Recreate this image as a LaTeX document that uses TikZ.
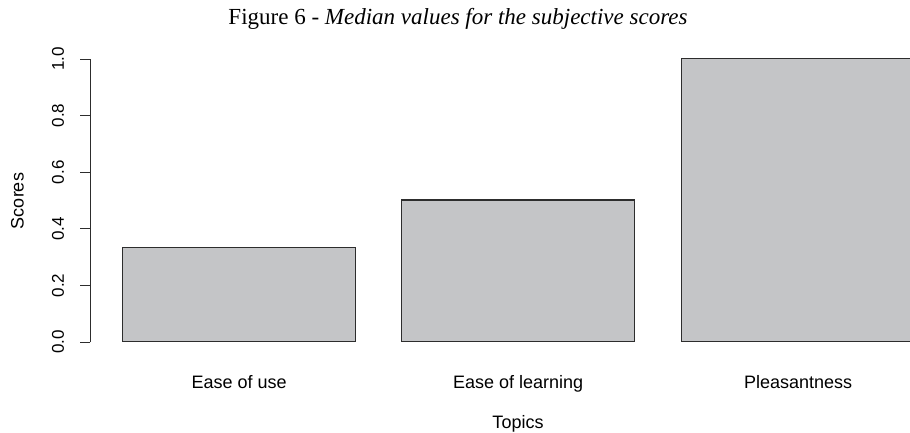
\documentclass[tikz,border=0pt]{standalone}
\usepackage{fontspec}
\setmainfont{Liberation Serif}
\setsansfont{Liberation Sans}
\usetikzlibrary{positioning}
\definecolor{barfill}{RGB}{196,197,199}
\definecolor{barline}{RGB}{45,45,45}
\tikzset{auto, x=1pt, y=1pt, font=\sffamily\fontsize{18}{18}\selectfont}
\tikzstyle{bar} = [draw=barline, fill=barfill, line width=1.1pt, rectangle, inner sep=0pt, anchor=south west]
\tikzstyle{axis} = [draw=barline, line width=0.9pt]
\tikzstyle{ticklabel} = [rotate=90, inner sep=0pt, anchor=center, font=\sffamily\fontsize{17}{17}\selectfont]
\tikzstyle{catlabel} = [inner sep=0pt, anchor=base]
\tikzstyle{title} = [inner sep=0pt, anchor=base, font=\rmfamily\fontsize{23}{23}\selectfont]
\newcommand{\yzero}{90}
\newcommand{\yunit}{283}

\begin{document}
\begin{tikzpicture}
		\useasboundingbox (0,0) rectangle (910,432);

		\node [title] (title) at (458,407) {Figure 6 - \textit{Median values for the subjective scores}};

		% bars
		\node [bar, minimum width=233pt, minimum height=0.3333*\yunit pt] (ease) at (122,\yzero) {};
		\node [bar, minimum width=233pt, minimum height=0.5*\yunit pt] (learn) at (401,\yzero) {};
		\node [bar, minimum width=233pt, minimum height=1.0*\yunit pt] (pleas) at (681,\yzero) {};

		\coordinate (labrow) at (0,44);
		\node [catlabel] (easelab) at (ease.south |- labrow) {Ease of use};
		\node [catlabel] (learnlab) at (learn.south |- labrow) {Ease of learning};
		\node [catlabel] (pleaslab) at (pleas.south |- labrow) {Pleasantness};
		\node [catlabel] (xtitle) at (518,4) {Topics};

		% y axis
		\coordinate (ybot) at (90,\yzero);
		\coordinate (ytop) at (90,\yzero+\yunit);
		\draw [axis] (ybot) -- (ytop);
		\foreach \v/\lab [count=\i] in {0/0.0, 0.2/0.2, 0.4/0.4, 0.6/0.6, 0.8/0.8, 1/1.0} {
			\coordinate (tk\i) at (90,\yzero+\v*\yunit);
			\draw [axis] (tk\i) -- ++(-10,0);
			\node [ticklabel] (tl\i) at (58,\yzero+\v*\yunit) {\lab};
		}
		\node [ticklabel, font=\sffamily\fontsize{18}{18}\selectfont] (ytitle) at (17.5,231) {Scores};
	\end{tikzpicture}
\end{document}
